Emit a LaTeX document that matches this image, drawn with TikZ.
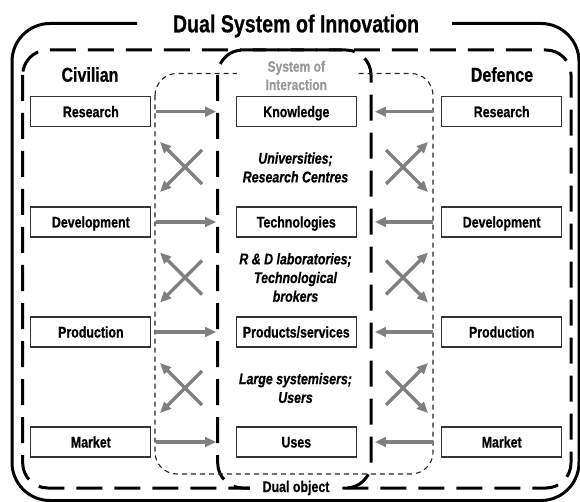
\documentclass[tikz,border=0pt]{standalone}
\usepackage{fontspec}
\setmainfont{Liberation Sans}[FakeStretch=0.8,
  BoldFeatures={FakeBold=0.6}, BoldItalicFeatures={FakeBold=0.6}]
\usetikzlibrary{arrows.meta}
\definecolor{arrowgray}{HTML}{808080}
\definecolor{boxline}{HTML}{333333}
\definecolor{softgray}{HTML}{9A9A9A}

\begin{document}
\begin{tikzpicture}[x=1pt,y=-1pt,
  frame/.style={line width=3pt},
  bigdash/.style={line width=3pt, dash pattern=on 26pt off 12pt},
  thindash/.style={line width=1.1pt, dash pattern=on 5pt off 4pt, draw=black!85},
  stage/.style={draw=boxline, line width=1.2pt, fill=white,
    minimum width=120pt, minimum height=30pt, inner sep=0pt,
    text height=11pt, text depth=0pt,
    font=\fontsize{15.5}{18}\selectfont\bfseries},
  heading/.style={font=\fontsize{20}{23}\selectfont\bfseries, anchor=base},
  actors/.style={font=\fontsize{15.5}{18.7}\selectfont\bfseries\itshape, align=center},
  flow/.style={draw=arrowgray, line width=3.5pt, -{Triangle[length=11pt,width=9.5pt]}},
]
\useasboundingbox (0,0) rectangle (580,502);

% outer frame with a gap for the title
\draw[frame, rounded corners=38pt] (137,23.5) -| (12,500.5) -| (579,23.5) -- (452,23.5);
\node[font=\fontsize{24.5}{28}\selectfont\bfseries, anchor=base] (title) at (296,32.3) {Dual System of Innovation};

% the two systems, the dual object and the system of interaction
\draw[bigdash, rounded corners=25pt] (22.7,50) rectangle (571,488);
\draw[bigdash, rounded corners=25pt] (217.7,50) rectangle (371,488);
\draw[thindash, rounded corners=22pt] (155,73.5) rectangle (433,474);

\node[heading] (civ) at (90,81.7) {Civilian};
\node[heading] (def) at (502,81.7) {Defence};
\node[font=\fontsize{15}{18.3}\selectfont\bfseries, text=softgray, fill=white,
      align=center, minimum width=118pt, inner ysep=1pt] (soi) at (296.3,75.5) {System of\\Interaction};

% stages
\foreach \n/\cy/\l/\m/\r in {1/111.7/Research/Knowledge/Research,
                             2/222/Development/Technologies/Development,
                             3/332/Production/Products\slash services/Production,
                             4/442/Market/Uses/Market} {
  \node[stage] (c\n) at (90.85,\cy) {\l};
  \node[stage] (m\n) at (296.3,\cy) {\m};
  \node[stage] (d\n) at (501.7,\cy) {\r};
  \draw[flow] ([xshift=5pt]c\n.east) -- ([xshift=-19.5pt]m\n.west);
  \draw[flow] ([xshift=-8.5pt]d\n.west) -- ([xshift=18pt]m\n.east);
}

% actors between the stages
\node[actors] (a1) at (295.5,167.5) {Universities;\\Research Centres};
\node[actors] (a2) at (295.5,277.5) {R \& D laboratories;\\Technological\\brokers};
\node[actors] (a3) at (295.5,388) {Large systemisers;\\Users};

% crossing exchanges
\foreach \n/\cy in {1/167,2/277.5,3/388} {
  \coordinate (lta\n) at (202,\cy-17);
  \coordinate (lha\n) at (160,\cy+25);
  \coordinate (ltb\n) at (202,\cy+17);
  \coordinate (lhb\n) at (160,\cy-25);
  \coordinate (rta\n) at (386,\cy-17);
  \coordinate (rha\n) at (428,\cy+25);
  \coordinate (rtb\n) at (386,\cy+17);
  \coordinate (rhb\n) at (428,\cy-25);
  \draw[flow] (lta\n) -- (lha\n);
  \draw[flow] (ltb\n) -- (lhb\n);
  \draw[flow] (rta\n) -- (rha\n);
  \draw[flow] (rtb\n) -- (rhb\n);
}

\node[font=\fontsize{15.5}{18}\selectfont\bfseries, fill=white, inner xsep=13pt, inner ysep=2pt] (dual) at (296,488) {Dual object};
\end{tikzpicture}
\end{document}
